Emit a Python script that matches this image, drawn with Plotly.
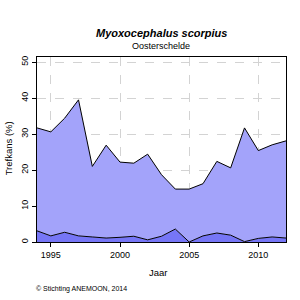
import plotly.graph_objects as go

years = list(range(1994, 2013))
lower = [3.1, 1.7, 2.7, 1.7, 1.4, 1.1, 1.3, 1.6, 0.6, 1.6, 3.6, 0.0, 1.7, 2.5, 1.9, 0.1, 1.0, 1.4, 1.1]
upper = [31.7, 30.6, 34.4, 39.5, 21.0, 26.9, 22.2, 21.9, 24.4, 18.7, 14.7, 14.7, 16.2, 22.4, 20.6, 31.7, 25.4, 27.0, 28.1]
x_ticks = [1995, 2000, 2005, 2010]
y_ticks = [0, 10, 20, 30, 40, 50]

title = "Myoxocephalus scorpius"
subtitle = "Oosterschelde"
x_title = "Jaar"
y_title = "Trefkans (%)"
footer = "© Stichting ANEMOON, 2014"

FONT = "Liberation Sans, Arial, sans-serif"

fig = go.Figure()
fig.add_trace(go.Scatter(x=years, y=lower, mode="lines", fill="tozeroy",
                         fillcolor="#7676F6", line=dict(color="black", width=1),
                         hoverinfo="skip", showlegend=False))
fig.add_trace(go.Scatter(x=years, y=upper, mode="lines", fill="tonexty",
                         fillcolor="#A3A3FA", line=dict(color="black", width=1),
                         hoverinfo="skip", showlegend=False))

L, R, T, B = 36.7, 286, 57, 242
W, H = 300, 300

def px(x):
    return (x - L) / (R - L)

def py(y):
    return (B - y) / (B - T)

fig.update_layout(
    width=W, height=H,
    margin=dict(l=L, r=W - R, t=T, b=H - B, pad=0),
    paper_bgcolor="white", plot_bgcolor="white",
    font=dict(family=FONT, size=9, color="black"),
    xaxis=dict(range=[1994, 2012], tickvals=x_ticks, ticks="outside", ticklen=4,
               tickcolor="black", showline=True, linecolor="black", linewidth=1,
               mirror=True, showgrid=True, gridcolor="#D3D3D3", griddash="dash",
               gridwidth=1, zeroline=False, tickfont=dict(size=9, family=FONT)),
    yaxis=dict(range=[0, 51.4], tickvals=y_ticks, ticks="outside", ticklen=4,
               tickcolor="black", showline=True, linecolor="black", linewidth=1,
               mirror=True, showgrid=True, gridcolor="#D3D3D3", griddash="dash",
               gridwidth=1, zeroline=False, tickangle=-90,
               tickfont=dict(size=9, family=FONT)),
    annotations=[
        dict(text="<b><i>" + title + "</i></b>", x=px(161), y=py(33.5), xref="paper", yref="paper",
             showarrow=False, xanchor="center", yanchor="middle", font=dict(size=11, family=FONT)),
        dict(text=subtitle, x=px(161), y=py(46.5), xref="paper", yref="paper",
             showarrow=False, xanchor="center", yanchor="middle", font=dict(size=9, family=FONT)),
        dict(text=x_title, x=px(158), y=py(272), xref="paper", yref="paper",
             showarrow=False, xanchor="center", yanchor="middle", font=dict(size=9.5, family=FONT)),
        dict(text=y_title, x=px(8), y=py(148), xref="paper", yref="paper", textangle=-90,
             showarrow=False, xanchor="center", yanchor="middle", font=dict(size=9.5, family=FONT)),
        dict(text=footer, x=px(34), y=py(289), xref="paper", yref="paper",
             showarrow=False, xanchor="left", yanchor="middle", font=dict(size=7, family=FONT)),
    ],
)

fig.write_html("out.html")
